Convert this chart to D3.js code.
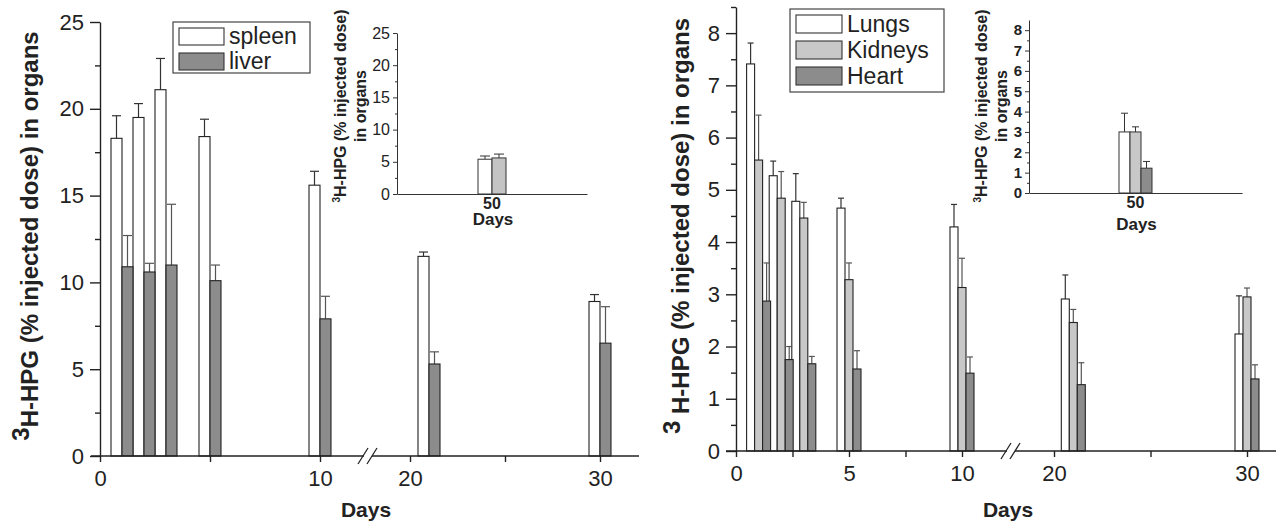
<!doctype html>
<html lang="en">
<head>
<meta charset="utf-8">
<title>3H-HPG distribution in organs</title>
<script src="https://cdn.jsdelivr.net/npm/d3@7/dist/d3.min.js"></script>
<style>
  body { margin: 0; background: #fff; }
  svg { display: block; font-family: "Liberation Sans", Arial, sans-serif; }
  .tick text { fill: #222; }
  .bold { font-weight: bold; }
</style>
</head>
<body>
<svg id="chart" width="1276" height="521"></svg>
<script>
// ---- data ----
var days = [1, 2, 3, 5, 10, 21, 30];

var spleen   = [18.3, 19.5, 21.1, 18.4, 15.6, 11.5, 8.9];
var spleenSd = [1.3, 0.8, 1.8, 1.0, 0.8, 0.25, 0.4];
var liver    = [10.9, 10.6, 11.0, 10.1, 7.9, 5.3, 6.5];
var liverSd  = [1.8, 0.5, 3.5, 0.9, 1.3, 0.7, 2.1];

var lungs     = [7.41, 5.27, 4.78, 4.65, 4.29, 2.91, 2.24];
var lungsSd   = [0.40, 0.28, 0.53, 0.19, 0.43, 0.46, 0.73];
var kidneys   = [5.57, 4.84, 4.46, 3.28, 3.13, 2.46, 2.95];
var kidneysSd = [0.86, 0.51, 0.30, 0.32, 0.56, 0.25, 0.17];
var heart     = [2.87, 1.75, 1.67, 1.57, 1.49, 1.27, 1.38];
var heartSd   = [0.73, 0.25, 0.14, 0.35, 0.31, 0.42, 0.27];

// 50 day insets
var insetDay = ["50"];
var insetLeft   = [5.4, 5.6];
var insetLeftSd = [0.5, 0.6];
var insetRight   = [3.0, 3.0, 1.22];
var insetRightSd = [0.92, 0.25, 0.33];

var xTickDays = [0, 10, 20, 30];
var xTickDaysR = [0, 5, 10, 20, 30];

var svg = d3.select("#chart");
var ink = "#222";

function drawBars(g, x, y, w, names, fills, vals, sds) {
  var sub = d3.scaleBand().domain(names).range([-w * names.length / 2, w * names.length / 2]);
  names.forEach(function(name, k) {
    var rows = days.map(function(d, i) { return { d: d, v: vals[k][i], sd: sds[k][i] }; });
    var grp = g.append("g");
    grp.selectAll("line.err").data(rows).enter().append("line")
      .attr("x1", function(r) { return x(r.d) + sub(name) + w / 2; })
      .attr("x2", function(r) { return x(r.d) + sub(name) + w / 2; })
      .attr("y1", function(r) { return y(r.v); })
      .attr("y2", function(r) { return y(r.v + r.sd); })
      .attr("stroke", k == 0 ? "#333" : "#555").attr("stroke-width", 1.2);
    grp.selectAll("line.cap").data(rows).enter().append("line")
      .attr("x1", function(r) { return x(r.d) + sub(name) + 1; })
      .attr("x2", function(r) { return x(r.d) + sub(name) + w - 1; })
      .attr("y1", function(r) { return y(r.v + r.sd); })
      .attr("y2", function(r) { return y(r.v + r.sd); })
      .attr("stroke", k == 0 ? "#333" : "#555").attr("stroke-width", 1.2);
    grp.selectAll("rect").data(rows).enter().append("rect")
      .attr("x", function(r) { return x(r.d) + sub(name); })
      .attr("y", function(r) { return y(r.v); })
      .attr("width", w)
      .attr("height", function(r) { return y(0) - y(r.v); })
      .attr("fill", fills[k]).attr("stroke", ink).attr("stroke-width", 1.1);
  });
}

function drawPanel(c) {
  var g = svg.append("g");
  var x = d3.scaleLinear().domain([0, 10, 20, 30]).range(c.xRange);
  var y = d3.scaleLinear().domain([0, c.yMax]).range(c.yRange);

  drawBars(g, x, y, c.barW, c.names, c.fills, c.vals, c.sds);

  // y axis (major + minor)
  var ya = g.append("g").attr("transform", "translate(" + x(0) + ",0)")
    .call(d3.axisLeft(y).tickValues(c.yMajor).tickSize(10).tickSizeOuter(0).tickPadding(6));
  ya.selectAll("text").style("font-size", "22px");
  ya.selectAll("line, path").attr("stroke", ink).attr("stroke-width", 1.4);
  g.append("g").attr("transform", "translate(" + x(0) + ",0)")
    .call(d3.axisLeft(y).tickValues(c.yMinor).tickSize(5).tickFormat(""))
    .call(function(s) { s.select(".domain").remove(); s.selectAll("line").attr("stroke", ink).attr("stroke-width", 1.4); });

  // x axis
  var y0 = y(0);
  var xa = g.append("g").attr("transform", "translate(0," + y0 + ")")
    .call(d3.axisBottom(x).tickValues(c.xMajor).tickSize(6).tickPadding(8));
  xa.select(".domain").remove();
  xa.selectAll("text").style("font-size", "22px");
  xa.selectAll("line").attr("stroke", ink).attr("stroke-width", 1.4);
  g.append("g").attr("transform", "translate(0," + y0 + ")")
    .call(d3.axisBottom(x).tickValues(c.xMinor).tickSize(6).tickFormat(""))
    .call(function(s) { s.select(".domain").remove(); s.selectAll("line").attr("stroke", ink).attr("stroke-width", 1.4); });

  // axis line with a break
  var bx = c.breakX;
  g.append("line").attr("x1", c.xLine[0]).attr("x2", bx - 4).attr("y1", y0).attr("y2", y0)
    .attr("stroke", ink).attr("stroke-width", 1.6);
  g.append("line").attr("x1", bx + 4).attr("x2", c.xLine[1]).attr("y1", y0).attr("y2", y0)
    .attr("stroke", ink).attr("stroke-width", 1.6);
  [-5, 4].forEach(function(o) {
    g.append("line").attr("x1", bx + o - 5).attr("y1", y0 + 8).attr("x2", bx + o + 5).attr("y2", y0 - 8)
      .attr("stroke", ink).attr("stroke-width", 1.3);
  });

  g.append("text").attr("class", "bold").attr("x", c.daysX).attr("y", 517)
    .attr("text-anchor", "middle").style("font-size", "21px").attr("fill", ink).text("Days");

  var lab = g.append("text").attr("class", "bold")
    .attr("transform", "translate(" + c.labX + "," + c.labY + ") rotate(-90)")
    .attr("text-anchor", "middle").style("font-size", "24px").attr("fill", ink);
  lab.append("tspan").attr("dy", -9).text("3");
  lab.append("tspan").attr("dy", 9).text(c.labText);

  // legend
  var L = c.legend;
  g.append("rect").attr("x", L.x).attr("y", L.y).attr("width", L.w).attr("height", L.h)
    .attr("fill", "#fff").attr("stroke", "#444").attr("stroke-width", 1.2);
  c.names.forEach(function(n, i) {
    g.append("rect").attr("x", L.x + 6).attr("y", L.y + 6 + i * L.row).attr("width", L.sw).attr("height", L.row - 8)
      .attr("fill", c.fills[i]).attr("stroke", "#333").attr("stroke-width", 1.1);
    g.append("text").attr("x", L.x + L.sw + 11).attr("y", L.y + L.row - 3 + i * L.row)
      .style("font-size", "23px").attr("fill", ink).text(n);
  });
}

function drawInset(c) {
  var g = svg.append("g");
  var x = d3.scaleBand().domain(insetDay).range(c.xRange);
  var y = d3.scaleLinear().domain([0, c.yMax]).range(c.yRange);
  var cx = x("50") + x.bandwidth() / 2;
  var sub = d3.scaleBand().domain(c.names).range([cx - c.barW * c.names.length / 2, cx + c.barW * c.names.length / 2]);
  c.names.forEach(function(n, k) {
    var bx = sub(n);
    g.append("line").attr("x1", bx + c.barW / 2).attr("x2", bx + c.barW / 2)
      .attr("y1", y(c.vals[k])).attr("y2", y(c.vals[k] + c.sds[k])).attr("stroke", "#333");
    g.append("line").attr("x1", bx + 2).attr("x2", bx + c.barW - 2)
      .attr("y1", y(c.vals[k] + c.sds[k])).attr("y2", y(c.vals[k] + c.sds[k])).attr("stroke", "#333");
    g.append("rect").attr("x", bx).attr("y", y(c.vals[k])).attr("width", c.barW)
      .attr("height", y(0) - y(c.vals[k])).attr("fill", c.fills[k]).attr("stroke", "#333");
  });
  var ya = g.append("g").attr("transform", "translate(" + c.xRange[0] + ",0)")
    .call(d3.axisLeft(y).tickValues(c.yMajor).tickSize(4).tickSizeOuter(0).tickPadding(3));
  ya.selectAll("text").style("font-size", c.tickSize).style("font-weight", c.boldTicks ? "bold" : "normal")
    .attr("fill", c.boldTicks ? "#222" : "#333");
  ya.selectAll("line, path").attr("stroke", "#333");
  g.append("g").attr("transform", "translate(" + c.xRange[0] + ",0)")
    .call(d3.axisLeft(y).tickValues(c.yMinor).tickSize(2).tickFormat(""))
    .call(function(s) { s.select(".domain").remove(); s.selectAll("line").attr("stroke", "#333"); });
  var xa = g.append("g").attr("transform", "translate(0," + y(0) + ")")
    .call(d3.axisBottom(x).tickSize(0).tickSizeOuter(0).tickPadding(4));
  xa.select(".domain").attr("stroke", "#333").attr("stroke-width", 1.2);
  xa.selectAll("text").attr("class", "bold").style("font-size", "16px").attr("fill", "#222");
  g.append("text").attr("class", "bold").attr("x", cx + 1).attr("y", y(0) + c.daysDy)
    .attr("text-anchor", "middle").style("font-size", "17px").attr("fill", "#222").text("Days");
  var lab = g.append("text").attr("class", "bold").attr("text-anchor", "middle")
    .style("font-size", "16px").attr("fill", "#222")
    .attr("transform", "translate(" + c.labX + "," + c.labY + ") rotate(-90)");
  lab.append("tspan").attr("dy", -6).style("font-size", "10px").text("3");
  lab.append("tspan").attr("dy", 6).text("H-HPG (% injected dose)");
  lab.append("tspan").attr("x", 0).attr("dy", 20).text("in organs");
}

// left panel: spleen / liver
drawPanel({
  xRange: [100, 320, 410, 600], xLine: [91, 639], breakX: 368,
  yMax: 25, yRange: [456, 22],
  yMajor: [0, 5, 10, 15, 20, 25], yMinor: [2.5, 7.5, 12.5, 17.5, 22.5],
  xMajor: xTickDays, xMinor: [5, 25],
  barW: 11, names: ["spleen", "liver"], fills: ["#fff", "#8c8c8c"],
  vals: [spleen, liver], sds: [spleenSd, liverSd],
  daysX: 366, labX: 38, labY: 236, labText: "H-HPG (% injected dose)  in organs",
  legend: { x: 173, y: 22, w: 137, h: 51, sw: 45, row: 25 }
});

// right panel: lungs / kidneys / heart
drawPanel({
  xRange: [736, 962, 1054, 1247], xLine: [726, 1276], breakX: 1011,
  yMax: 8.5, yRange: [451, 7],
  yMajor: [0, 1, 2, 3, 4, 5, 6, 7, 8], yMinor: [0.5, 1.5, 2.5, 3.5, 4.5, 5.5, 6.5, 7.5, 8.5],
  xMajor: xTickDaysR, xMinor: [2.5, 7.5, 25],
  barW: 8, names: ["Lungs", "Kidneys", "Heart"], fills: ["#fff", "#c8c8c8", "#8c8c8c"],
  vals: [lungs, kidneys, heart], sds: [lungsSd, kidneysSd, heartSd],
  daysX: 1008, labX: 689, labY: 226, labText: " H-HPG (% injected dose) in organs",
  legend: { x: 790, y: 9, w: 154, h: 83, sw: 46, row: 26 }
});

drawInset({
  xRange: [397, 587], yMax: 25, yRange: [194, 33],
  yMajor: [0, 5, 10, 15, 20, 25], yMinor: [2.5, 7.5, 12.5, 17.5, 22.5],
  names: ["spleen", "liver"], fills: ["#fff", "#c4c4c4"], barW: 14,
  vals: insetLeft, sds: insetLeftSd, boldTicks: false, tickSize: "16px", daysDy: 31,
  labX: 346, labY: 106
});

drawInset({
  xRange: [1029, 1242], yMax: 8.5, yRange: [193, 20],
  yMajor: [0, 1, 2, 3, 4, 5, 6, 7, 8], yMinor: [0.5, 1.5, 2.5, 3.5, 4.5, 5.5, 6.5, 7.5],
  names: ["Lungs", "Kidneys", "Heart"], fills: ["#fff", "#c8c8c8", "#8c8c8c"], barW: 11,
  vals: insetRight, sds: insetRightSd, boldTicks: true, tickSize: "15px", daysDy: 37,
  labX: 987, labY: 106
});
</script>
</body>
</html>
